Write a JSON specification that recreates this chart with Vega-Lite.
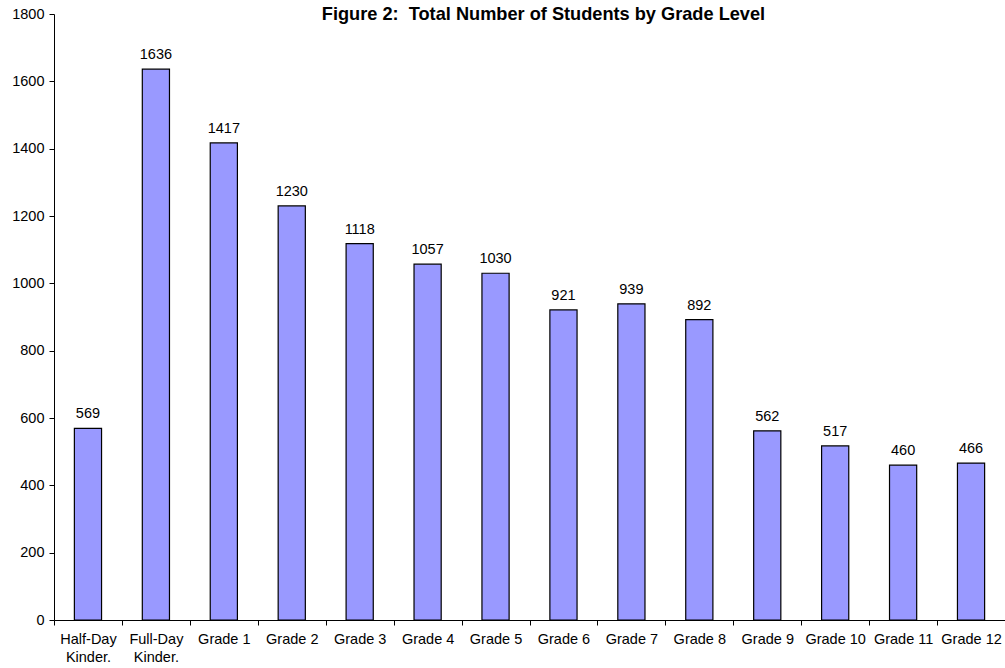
{
  "$schema": "https://vega.github.io/schema/vega-lite/v6.json",
  "width": 951,
  "height": 606,
  "autosize": {"type": "none"},
  "padding": {"left": 54, "top": 14, "right": 0, "bottom": 48},
  "background": "white",
  "title": {
    "text": "Figure 2:\u00a0 Total Number of Students by Grade Level",
    "font": "Liberation Sans",
    "fontSize": 18.2,
    "fontWeight": "bold",
    "color": "black",
    "anchor": "middle",
    "dx": 14,
    "offset": -18
  },
  "config": {
    "view": {"stroke": null},
    "axis": {
      "labelFont": "Liberation Sans",
      "labelFontSize": 14.5,
      "labelColor": "black",
      "domainColor": "black",
      "tickColor": "black",
      "grid": false,
      "title": null
    }
  },
  "data": {
    "values": [
      {"grade": "Half-Day Kinder.", "students": 569},
      {"grade": "Full-Day Kinder.", "students": 1636},
      {"grade": "Grade 1", "students": 1417},
      {"grade": "Grade 2", "students": 1230},
      {"grade": "Grade 3", "students": 1118},
      {"grade": "Grade 4", "students": 1057},
      {"grade": "Grade 5", "students": 1030},
      {"grade": "Grade 6", "students": 921},
      {"grade": "Grade 7", "students": 939},
      {"grade": "Grade 8", "students": 892},
      {"grade": "Grade 9", "students": 562},
      {"grade": "Grade 10", "students": 517},
      {"grade": "Grade 11", "students": 460},
      {"grade": "Grade 12", "students": 466}
    ]
  },
  "encoding": {
    "x": {
      "field": "grade",
      "type": "nominal",
      "sort": null,
      "scale": {"paddingInner": 0, "paddingOuter": 0},
      "axis": {
        "labelAngle": 0,
        "tickBand": "extent",
        "tickSize": 5,
        "labelPadding": 7,
        "labelLineHeight": 18,
        "labelExpr": "indexof(datum.label,'Kinder')>=0 ? [replace(datum.label,' Kinder.',''), 'Kinder.'] : datum.label"
      }
    },
    "y": {
      "field": "students",
      "type": "quantitative",
      "scale": {"domain": [0, 1800], "nice": false},
      "axis": {"values": [0, 200, 400, 600, 800, 1000, 1200, 1400, 1600, 1800], "format": "d", "tickSize": 5, "labelPadding": 5}
    }
  },
  "layer": [
    {
      "mark": {"type": "bar", "color": "#9999FF", "stroke": "black", "strokeWidth": 1.2, "width": {"band": 0.4}}
    },
    {
      "mark": {"type": "text", "font": "Liberation Sans", "fontSize": 14.5, "color": "black", "baseline": "bottom", "dy": -7},
      "encoding": {"text": {"field": "students", "type": "quantitative"}}
    }
  ]
}
